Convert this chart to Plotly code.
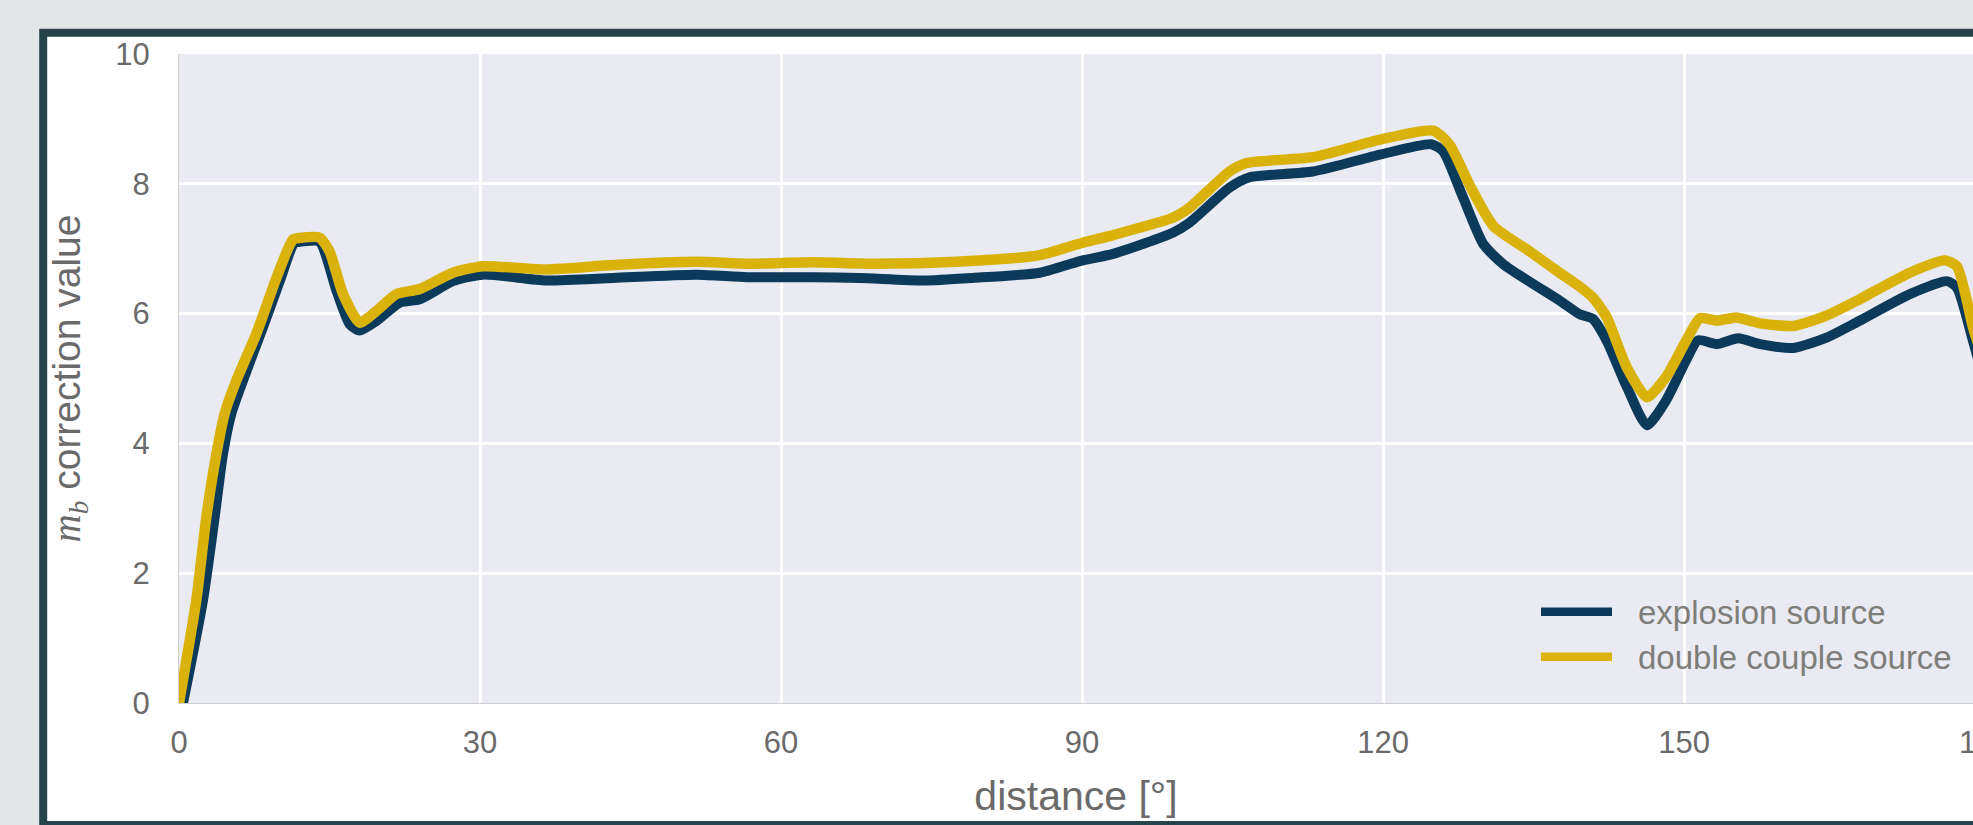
import plotly.graph_objects as go

# epicentral distance [deg] and mb correction for an explosion source
dist_explosion = [0.4, 2.4, 3.56, 4.39, 5.22, 6.38, 8.37, 10.04, 11.5, 12.2, 14.0, 15.7,
                  17.0, 18.0, 19.7, 22.0, 24.0, 27.3, 30.3, 36.6, 43.3, 51.6, 56.6,
                  63.2, 67.8, 74.2, 79.1, 85.8, 89.8, 93.1, 99.1, 100.7, 104.7, 106.7,
                  113.0, 119.7, 124.8, 126.0, 128.0, 130.0, 132.0, 137.6, 139.6, 140.9,
                  142.3, 144.3, 146.3, 148.2, 150.2, 151.4, 153.3, 155.4, 157.6, 160.9,
                  164.2, 167.5, 172.5, 176.2, 177.2, 178.8, 180.0]
mb_explosion = [0.0, 1.59, 2.87, 3.84, 4.46, 4.97, 5.79, 6.50, 7.09, 7.11, 7.11, 6.35,
                5.84, 5.74, 5.89, 6.17, 6.22, 6.50, 6.60, 6.51, 6.55, 6.60, 6.56,
                6.56, 6.55, 6.51, 6.55, 6.63, 6.81, 6.92, 7.25, 7.40, 7.94, 8.10,
                8.19, 8.45, 8.61, 8.50, 7.78, 7.07, 6.76, 6.20, 5.99, 5.92,
                5.58, 4.87, 4.28, 4.66, 5.28, 5.59, 5.53, 5.62, 5.53, 5.47,
                5.63, 5.89, 6.30, 6.50, 6.40, 5.58, 4.90]

# epicentral distance [deg] and mb correction for a double couple source
dist_double_couple = [0.0, 1.73, 2.73, 3.73, 4.55, 5.72, 7.71, 9.71, 11.36, 12.2, 14.0,
                      15.0, 16.35, 18.0, 19.67, 21.67, 24.0, 27.3, 30.3, 36.6, 43.3,
                      51.6, 56.6, 63.2, 69.2, 77.5, 85.8, 89.8, 93.1, 99.1, 100.7,
                      104.7, 106.4, 113.0, 119.7, 125.0, 126.65, 128.6, 131.0, 134.6,
                      137.6, 139.3, 140.9, 142.3, 144.3, 146.3, 148.2, 150.2, 151.6,
                      153.3, 155.2, 157.6, 160.9, 164.2, 167.5, 172.5, 176.0, 177.2,
                      178.8, 180.0]
mb_double_couple = [0.0, 1.59, 2.87, 3.84, 4.46, 4.97, 5.69, 6.55, 7.14, 7.17, 7.17,
                    6.96, 6.30, 5.86, 6.04, 6.30, 6.38, 6.63, 6.73, 6.68, 6.75,
                    6.80, 6.77, 6.79, 6.77, 6.80, 6.90, 7.08, 7.21, 7.48, 7.63,
                    8.19, 8.32, 8.41, 8.68, 8.82, 8.60, 7.99, 7.35, 6.96,
                    6.63, 6.45, 6.25, 5.94, 5.17, 4.71, 5.02, 5.58, 5.93,
                    5.89, 5.94, 5.85, 5.81, 5.97, 6.22, 6.63, 6.82, 6.73,
                    5.79, 5.20]

series_names = ["explosion source", "double couple source"]
series_colors = ["#0b3a5b", "#d9b30c"]

x_ticks = [0, 30, 60, 90, 120, 150]
y_ticks = [0, 2, 4, 6, 8, 10]

X_MAX_VISIBLE = 178.8
FONT = "Liberation Sans, Arial, sans-serif"
GREY = "#6a6a6a"
FRAME = "#25444a"
PAGE = "#e2e6e7"

fig = go.Figure()
fig.add_trace(go.Scatter(
    x=dist_explosion, y=mb_explosion, mode="lines", name=series_names[0],
    line=dict(color=series_colors[0], width=10, shape="spline", smoothing=0.6),
    showlegend=False, cliponaxis=True,
))
fig.add_trace(go.Scatter(
    x=dist_double_couple, y=mb_double_couple, mode="lines", name=series_names[1],
    line=dict(color=series_colors[1], width=10.5, shape="spline", smoothing=0.6),
    showlegend=False, cliponaxis=True,
))

W, H = 1973, 825
ML, MT, MB = 179, 54, 122
PW, PH = W - ML, H - MT - MB


def px_x(px):
    return (px - ML) / PW


def px_y(py):
    return (H - MB - py) / PH


shapes = [
    # page margin outside the panel frame
    dict(type="rect", xref="paper", yref="paper", x0=px_x(-5), x1=px_x(39.3),
         y0=px_y(900), y1=px_y(-5), fillcolor=PAGE, line=dict(width=0), layer="below"),
    dict(type="rect", xref="paper", yref="paper", x0=px_x(-5), x1=px_x(2000),
         y0=px_y(28.7), y1=px_y(-5), fillcolor=PAGE, line=dict(width=0), layer="below"),
    # panel frame
    dict(type="rect", xref="paper", yref="paper", x0=px_x(43.2), x1=px_x(2010),
         y0=px_y(825), y1=px_y(32.7), line=dict(color=FRAME, width=8), layer="below"),
]

# legend drawn as wide line samples with labels
legend_rows_y = [611.7, 656.7]
annotations = []
for name, color, ry in zip(series_names, series_colors, legend_rows_y):
    shapes.append(dict(type="line", xref="paper", yref="paper",
                       x0=px_x(1541), x1=px_x(1612), y0=px_y(ry), y1=px_y(ry),
                       line=dict(color=color, width=8.5), layer="above"))
    annotations.append(dict(xref="paper", yref="paper", x=px_x(1636), y=px_y(ry + 1),
                            text=name, showarrow=False, xanchor="left", yanchor="middle",
                            font=dict(family=FONT, size=33, color="#7e7e78")))

# last tick label, partly cut by the panel edge
annotations.append(dict(xref="paper", yref="paper", x=px_x(179.3 + 180 * 10.033),
                        y=px_y(743), text="180", showarrow=False, xanchor="center",
                        yanchor="middle", font=dict(family=FONT, size=31, color=GREY)))

fig.update_layout(
    width=W, height=H, autosize=False,
    margin=dict(l=ML, r=0, t=MT, b=MB, pad=0),
    paper_bgcolor="white",
    plot_bgcolor="#eaeaf2",
    font=dict(family=FONT, color=GREY),
    shapes=shapes,
    annotations=annotations,
    showlegend=False,
)

fig.update_xaxes(
    range=[0, X_MAX_VISIBLE], tickvals=x_ticks, ticktext=[str(v) for v in x_ticks],
    tickfont=dict(size=31, color=GREY), ticks="outside", ticklen=12,
    tickcolor="rgba(0,0,0,0)", showgrid=True, gridcolor="white", gridwidth=3,
    zeroline=False, showline=True, linecolor="#cfcfcf", linewidth=1,
    title=dict(text="distance [°]", font=dict(size=41, color=GREY), standoff=22),
)
fig.update_yaxes(
    range=[0, 10], tickvals=y_ticks, ticktext=[str(v) for v in y_ticks],
    tickfont=dict(size=31, color=GREY), ticks="outside", ticklen=22,
    tickcolor="rgba(0,0,0,0)", showgrid=True, gridcolor="white", gridwidth=3,
    zeroline=False, showline=True, linecolor="#cfcfcf", linewidth=1,
    title=dict(
        text='<span style="font-family:Liberation Serif"><i>m</i><sub><i>b</i></sub></span> correction value',
        font=dict(size=39, color=GREY), standoff=22),
)

fig.write_html("out.html")
